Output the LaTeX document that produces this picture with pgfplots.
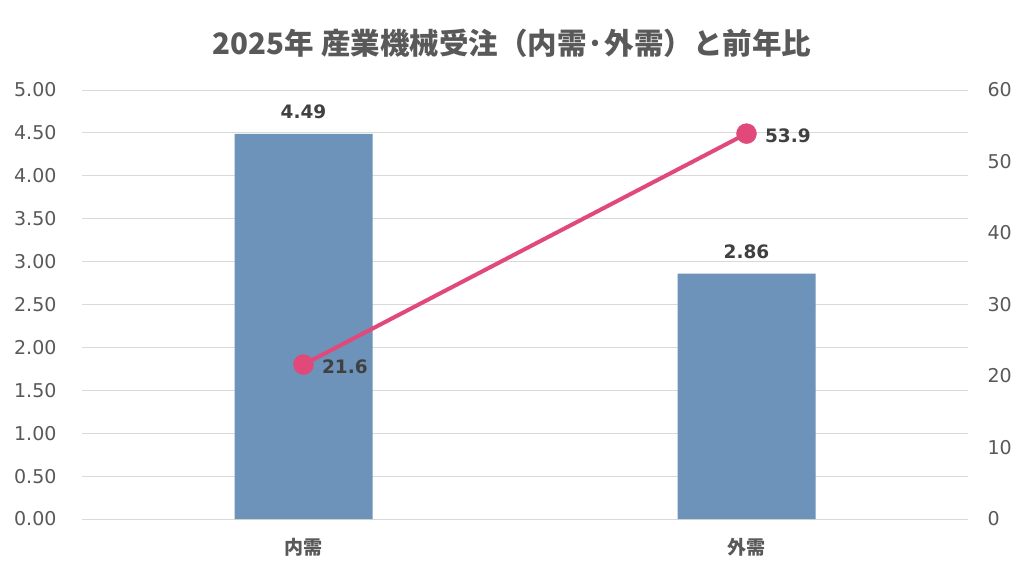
\documentclass[border=0pt]{standalone}
\usepackage{pgfplots}
\pgfplotsset{compat=1.18}
\usepackage{fontspec}
\setmainfont{DejaVu Sans}
\newfontfamily\cjk{Noto Sans CJK JP}
\definecolor{barblue}{HTML}{6D93BA}
\definecolor{linepink}{HTML}{E0497A}
\definecolor{tickgray}{HTML}{595959}
\definecolor{labgray}{HTML}{404040}
\definecolor{gridgray}{HTML}{D9D9D9}
\begin{document}
\begin{tikzpicture}
\useasboundingbox[fill=white] (0,0) rectangle (1024pt,578pt);
\node[anchor=center, text=tickgray, font=\cjk\bfseries\fontsize{29.5}{34}\selectfont] at (512pt,535pt) {2025年 産業機械受注（内需·外需）と前年比};
\begin{axis}[
  at={(82pt,59pt)}, anchor=south west, scale only axis,
  width=886pt, height=429pt,
  xmin=-0.5, xmax=1.5, ymin=0, ymax=5,
  ytick={0,0.5,...,5},
  xtick={0,1}, xticklabels={内需,外需},
  axis line style={draw=none},
  major tick length=0pt,
  tick style={draw=none},
  ymajorgrids, grid style={gridgray, line width=1pt},
  yticklabel style={font=\fontsize{19}{22}\selectfont, text=tickgray, xshift=-22pt,
    /pgf/number format/fixed, /pgf/number format/fixed zerofill, /pgf/number format/precision=2, /pgf/number format/assume math mode=true},
  xticklabel style={font=\cjk\bfseries\fontsize{19}{22}\selectfont, text=tickgray, yshift=-16pt},
  ybar, bar width=138pt,
  nodes near coords,
  nodes near coords style={font=\bfseries\fontsize{18.5}{22}\selectfont, text=labgray,
    /pgf/number format/fixed, /pgf/number format/fixed zerofill, /pgf/number format/precision=2, /pgf/number format/assume math mode=true},
  every node near coord/.append style={yshift=11pt},
]
\addplot[fill=barblue, draw=none] coordinates {(0,4.49) (1,2.86)};
\end{axis}
\begin{axis}[
  at={(82pt,59pt)}, anchor=south west, scale only axis,
  width=886pt, height=429pt,
  xmin=-0.5, xmax=1.5, ymin=0, ymax=60,
  ytick={0,10,...,60},
  axis y line*=right, axis x line=none,
  axis line style={draw=none},
  major tick length=0pt,
  tick style={draw=none},
  yticklabel style={font=\fontsize{19}{22}\selectfont, text=tickgray, xshift=16pt, /pgf/number format/assume math mode=true},
  clip=false,
]
\addplot[linepink, line width=4pt, mark=*, mark size=10pt, mark options={fill=linepink, draw=linepink, line width=0.4pt},
  nodes near coords, nodes near coords style={anchor=west, xshift=15pt, yshift=-2pt, font=\bfseries\fontsize{18.5}{22}\selectfont, text=labgray,
    /pgf/number format/fixed, /pgf/number format/fixed zerofill, /pgf/number format/precision=1, /pgf/number format/assume math mode=true}]
  coordinates {(0,21.6) (1,53.9)};
\end{axis}
\end{tikzpicture}
\end{document}
